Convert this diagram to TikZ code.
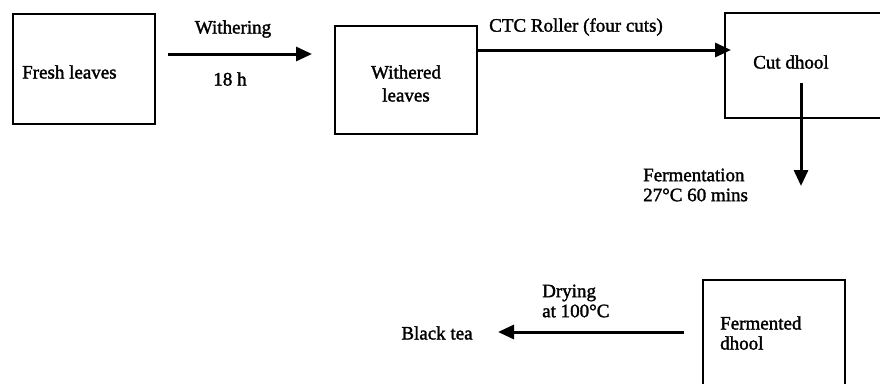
\documentclass[tikz,border=0pt]{standalone}
\usepackage{fontspec}
\setmainfont{Liberation Serif}
\newfontfamily\heavyfont{Liberation Serif}[FakeBold=1.6]
\usetikzlibrary{arrows.meta}
\tikzset{
  box/.style={draw, line width=2.8pt, rectangle, inner sep=0pt},
  lbl/.style={inner sep=0pt, font=\heavyfont\fontsize{19}{20}\selectfont},
  arr/.style={line width=3pt, -{Triangle[length=16pt,width=14pt]}}
}
\begin{document}
\begin{tikzpicture}[x=1pt,y=-1pt]
\clip (0,0) rectangle (880,383);
\fill[white] (0,0) rectangle (880,383);
% boxes
\node[box, minimum width=142pt, minimum height=110pt] (fresh) at (84,69) {};
\node[box, minimum width=142pt, minimum height=108pt] (wl) at (406,80) {};
\node[box, minimum width=175pt, minimum height=105pt] (cut) at (812.5,65.5) {};
\node[box, minimum width=142pt, minimum height=130pt] (ferm) at (774,345) {};
% box texts
\node[lbl, anchor=west] (tfresh) at (22,72) {Fresh leaves};
\node[lbl, align=center, font=\heavyfont\fontsize{19}{23}\selectfont] (twl) at (406,83.5) {Withered\\leaves};
\node[lbl, anchor=west] (tcut) at (753,62) {Cut dhool};
\node[lbl, anchor=west, align=left] (tferm) at (720,333) {Fermented\\dhool};
\node[lbl] (tblack) at (437,333) {Black tea};
% connector labels
\node[lbl] (lwith) at (233,29) {Withering};
\node[lbl] (l18) at (230,79) {18 h};
\node[lbl] (lctc) at (576,27) {CTC Roller (four cuts)};
\node[lbl, anchor=west, align=left] (lferm) at (643,185) {Fermentation\\27°C 60 mins};
\node[lbl, anchor=west, align=left] (ldry) at (542,301) {Drying\\at 100°C};
% connectors
\coordinate (w1) at (168,54);
\coordinate (w2) at (312,54);
\draw[arr] (w1) -- (w2);
\coordinate (c2) at (731,50);
\draw[arr] (wl.east |- c2) -- (c2);
\coordinate (d1) at (801,83);
\coordinate (d2) at (801,186);
\draw[arr] (d1) -- (d2);
\coordinate (dr1) at (684,332);
\coordinate (dr2) at (498,332);
\draw[arr] (dr1) -- (dr2);
\end{tikzpicture}
\end{document}
